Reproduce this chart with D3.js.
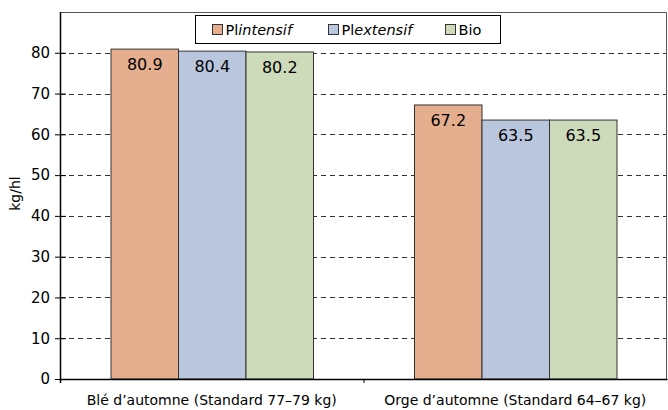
<!DOCTYPE html>
<html>
<head>
<meta charset="utf-8">
<script src="https://cdn.jsdelivr.net/npm/d3@7"></script>
<style>
  body { margin: 0; background: #fff; }
  text { font-family: "DejaVu Sans", "Noto Sans", sans-serif; fill: #000; }
</style>
</head>
<body>
<div id="chart"></div>
<script>
"use strict";

const categories = ["Blé d\u2019automne (Standard 77\u201379 kg)", "Orge d\u2019automne (Standard 64\u201367 kg)"];
const seriesNames = ["PlIntensif", "PlExtensif", "Bio"];
const plIntensif = [80.9, 67.2];
const plExtensif = [80.4, 63.5];
const bio = [80.2, 63.5];
const yTicks = [0, 10, 20, 30, 40, 50, 60, 70, 80];
const colors = ["#e5af8f", "#b9c6de", "#cddbbb"];

const series = [plIntensif, plExtensif, bio];
const font = "DejaVu Sans, sans-serif";

const margin = {top: 12, right: 1, bottom: 31, left: 60},
    width = 668 - margin.left - margin.right,
    height = 410 - margin.top - margin.bottom;

const svg = d3.select("#chart")
    .append("svg")
    .attr("width", 668)
    .attr("height", 410)
    .append("g")
    .attr("transform", `translate(${margin.left}, ${margin.top})`);

const x = d3.scaleBand()
    .domain(categories)
    .range([0, width])
    .paddingInner(0)
    .paddingOuter(0);

const xSub = d3.scaleBand()
    .domain(d3.range(series.length))
    .range([50.5, x.bandwidth() - 50.5]);

const y = d3.scaleLinear()
    .domain([0, 90])
    .range([height, 0]);

// dashed grid lines
svg.append("g")
    .selectAll("line")
    .data(yTicks.filter(d => d > 0))
    .enter().append("line")
    .attr("x1", 0)
    .attr("x2", width)
    .attr("y1", d => Math.round(y(d)) + 0.5)
    .attr("y2", d => Math.round(y(d)) + 0.5)
    .attr("stroke", "#333")
    .attr("stroke-dasharray", "5,4");

// frame top + right
svg.append("path")
    .attr("d", `M0,0.5H${width - 0.5}V${height}`)
    .attr("fill", "none")
    .attr("stroke", "#555");

// bars
const rows = categories.map((c, i) => series.map((s, j) => ({cat: c, k: j, value: s[i]})));

const groups = svg.append("g")
    .selectAll("g")
    .data(rows)
    .enter().append("g")
    .attr("transform", (d, i) => `translate(${x(categories[i])},0)`);

groups.selectAll("rect")
    .data(d => d)
    .enter().append("rect")
    .attr("x", d => xSub(d.k) + 0.5)
    .attr("y", d => y(d.value))
    .attr("width", xSub.bandwidth())
    .attr("height", d => height - y(d.value))
    .attr("fill", d => colors[d.k])
    .attr("stroke", "#333")
    .attr("stroke-width", 1);

groups.selectAll("text")
    .data(d => d)
    .enter().append("text")
    .attr("x", d => xSub(d.k) + xSub.bandwidth() / 2 + 0.5)
    .attr("y", d => y(d.value) + 21)
    .attr("text-anchor", "middle")
    .style("font-size", "16px")
    .text(d => d.value.toFixed(1));

// Y axis
const yAxis = svg.append("g")
    .call(d3.axisLeft(y).tickValues(yTicks).tickSize(5).tickPadding(5));
yAxis.select(".domain").attr("stroke", "#000").attr("stroke-width", 1.5).attr("d", `M0.5,${height + 4}V0`);
yAxis.selectAll(".tick line").attr("stroke", "#000").attr("x2", -5).attr("x1", 6);
yAxis.selectAll(".tick text").attr("x", -10).style("font-size", "15px").style("font-family", font);

// X axis
const xAxis = svg.append("g")
    .attr("transform", `translate(0, ${height})`)
    .call(d3.axisBottom(x).tickSize(0).tickPadding(16));
xAxis.select(".domain").attr("stroke", "#000").attr("stroke-width", 1.5);
xAxis.selectAll(".tick text").style("font-size", "14px").style("font-family", font);
xAxis.append("line")
    .attr("x1", x(categories[1]) + 0.5)
    .attr("x2", x(categories[1]) + 0.5)
    .attr("y1", 0)
    .attr("y2", 4)
    .attr("stroke", "#000");

// y title
svg.append("text")
    .attr("transform", `translate(${-40}, ${height / 2 - 2}) rotate(-90)`)
    .attr("text-anchor", "middle")
    .style("font-size", "14px")
    .text("kg/hl");

// legend
const legend = svg.append("g")
    .attr("transform", `translate(${195.5 - margin.left}, ${15.5 - margin.top})`);
legend.append("rect")
    .attr("width", 305)
    .attr("height", 28)
    .attr("fill", "#fff")
    .attr("stroke", "#000");

const legendX = [17, 133, 250];
const item = legend.selectAll("g.item")
    .data(seriesNames)
    .enter().append("g")
    .attr("class", "item")
    .attr("transform", (d, i) => `translate(${legendX[i]}, 9)`);
item.append("rect")
    .attr("width", 10)
    .attr("height", 10)
    .attr("fill", (d, i) => colors[i])
    .attr("stroke", "#333");
const lt = item.append("text")
    .attr("x", 13)
    .attr("y", 10.5)
    .style("font-size", "14.5px");
lt.each(function(d) {
    const t = d3.select(this);
    if (d === "Bio") {
        t.text("Bio");
    } else {
        t.append("tspan").text("Pl");
        t.append("tspan").style("font-style", "italic").text(d.slice(2).toLowerCase());
    }
});
</script>
</body>
</html>
